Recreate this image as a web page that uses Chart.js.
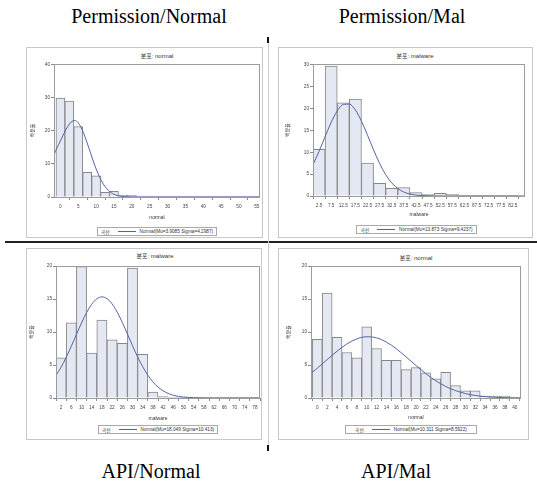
<!DOCTYPE html>
<html><head><meta charset="utf-8">
<script src="https://cdn.jsdelivr.net/npm/chart.js@4.4.0/dist/chart.umd.min.js"></script>
<style>
html,body{margin:0;padding:0;background:#fff;}
body{width:537px;height:485px;position:relative;overflow:hidden;font-family:"Liberation Sans","Noto Sans CJK KR",sans-serif;color:#333;}
.cap{position:absolute;font-family:"Liberation Serif","Times New Roman",serif;font-size:20px;line-height:20px;white-space:nowrap;transform:translateX(-50%);color:#000;}
.frame{position:absolute;border:1px solid #c8c8c8;box-sizing:border-box;}
.ptitle{position:absolute;font-size:6px;line-height:7px;white-space:nowrap;transform:translate(-50%,-50%);color:#333;}
.legend{position:absolute;border:1px solid #aaa;box-sizing:border-box;display:flex;align-items:center;justify-content:center;font-size:4.7px;white-space:nowrap;color:#333;}
.legend .ln{display:inline-block;width:18px;height:0;border-top:1px solid #5563a3;margin:0 4px 0 8px;}
canvas{position:absolute;}
.hline{position:absolute;left:5px;top:241px;width:532px;height:2px;background:#222;}
.vline{position:absolute;left:268px;top:40px;width:1px;height:411px;background:#cfcfcf;}
.tick{position:absolute;left:267px;width:2px;height:6px;background:#111;}
</style>
</head><body>
<div class="hline"></div>
<div class="vline"></div>
<div class="tick" style="top:37px"></div>
<div class="tick" style="top:445px"></div>
<div class="cap" style="left:149px;top:6px">Permission/Normal</div>
<div class="cap" style="left:402px;top:6px">Permission/Mal</div>
<div class="cap" style="left:151px;top:461px">API/Normal</div>
<div class="cap" style="left:396px;top:461px">API/Mal</div>
<div id="root"></div>
<script>
const p1Centers = [0,2.5,5,7.5,10,12.5,15,17.5,20,22.5,25,27.5,30,32.5,35,37.5,40,42.5,45,47.5,50,52.5,55];
const p1Percent = [30,29.1,21.3,7.5,6.4,1.4,1.7,0.6,0.5,0.3,0.3,0.1,0.08,0.05,0.05,0.05,0.05,0.03,0.03,0.03,0.03,0.03,0.05];
const p1CurveX = [-1.8,-1,0,1,2,3,4,5,6,7,8,9,10,11,12,13,14,15,16,17,18,20,22,55.9];
const p1CurveY = [12.8,14.8,17.0,19.3,21.3,22.7,23.2,22.45,20.6,17.9,14.75,11.5,8.5,5.95,3.95,2.48,1.47,0.83,0.44,0.22,0.11,0.02,0,0];
const p1XTicks = [0,5,10,15,20,25,30,35,40,45,50,55];
const p1YTicks = [0,10,20,30,40];

const p2Centers = [2.5,7.5,12.5,17.5,22.5,27.5,32.5,37.5,42.5,47.5,52.5,57.5,62.5,67.5,72.5,77.5,82.5];
const p2Percent = [10.7,29.7,21.3,22.2,7.55,2.9,1.75,1.9,0.8,0.3,0.6,0.4,0.15,0.1,0.05,0.05,0.15];
const p2CurveX = [0,2.5,5,7.5,10,12.5,15,17.5,20,22.5,25,27.5,30,32.5,35,37.5,40,42.5,45,50,55,87.5];
const p2CurveY = [7.17,10.22,13.59,16.84,19.46,20.95,21.02,19.66,17.13,13.92,10.54,7.44,4.89,3.0,1.71,0.91,0.45,0.21,0.09,0.012,0,0];
const p2XTicks = [2.5,7.5,12.5,17.5,22.5,27.5,32.5,37.5,42.5,47.5,52.5,57.5,62.5,67.5,72.5,77.5,82.5];
const p2YTicks = [0,5,10,15,20,25,30];

const p3Centers = [2,6,10,14,18,22,26,30,34,38,42,46,50,54,58,62,66,70,74,78];
const p3Percent = [6.1,11.4,19.9,6.8,11.8,8.8,8.3,19.7,6.6,0.9,0.2,0.05,0.04,0.03,0.03,0.03,0.03,0.03,0.03,0.1];
const p3CurveX = [0,2,4,6,8,10,12,14,16,18,20,22,24,26,28,30,32,34,36,38,40,42,44,46,48,50,54,58,62,80];
const p3CurveY = [3.41,4.67,6.17,7.84,9.63,11.36,12.94,14.2,15.03,15.32,15.05,14.26,13.01,11.45,9.7,7.93,6.24,4.74,3.47,2.44,1.66,1.09,0.69,0.42,0.24,0.14,0.04,0.01,0,0];
const p3XTicks = [2,6,10,14,18,22,26,30,34,38,42,46,50,54,58,62,66,70,74,78];
const p3YTicks = [0,5,10,15,20];

const p4Centers = [0,2,4,6,8,10,12,14,16,18,20,22,24,26,28,30,32,34,36,38,40];
const p4Percent = [8.9,15.9,9.2,6.9,6.1,10.8,7.5,5.7,5.7,4.3,4.6,3.8,2.9,3.9,1.9,1.1,1.1,0.3,0.3,0.3,0.05];
const p4CurveX = [-1.28,0,2,4,6,8,10,12,14,16,18,20,22,24,26,28,30,32,34,36,38,40,41.27];
const p4CurveY = [3.74,4.52,5.82,7.09,8.19,8.96,9.28,9.11,8.47,7.46,6.22,4.92,3.68,2.61,1.75,1.12,0.67,0.38,0.21,0.11,0.05,0.02,0.02];
const p4XTicks = [0,2,4,6,8,10,12,14,16,18,20,22,24,26,28,30,32,34,36,38,40];
const p4YTicks = [0,5,10,15,20];

const panelTitles = ['분포: normal','분포: malware','분포: malware','분포: normal'];
const xTitles = ['normal','malware','malware','normal'];
const yTitle = '백분율';
const legendPrefix = '곡선';
const legendTexts = ['Normal(Mu=3.9085 Sigma=4.2987)','Normal(Mu=13.873 Sigma=9.4237)','Normal(Mu=18.049 Sigma=10.413)','Normal(Mu=10.311 Sigma=8.5922)'];

// ---- layout ----
const layouts = [
  {frame:[26,47,263,238], plot:[54,64,260,197], yTitleX:33, xTitleY:218, titleX:157, titleY:56, legend:[97,227,217,236], xr:[-1.8,55.9], ymax:40.3},
  {frame:[278,47,533,238], plot:[313,64,525,196], yTitleX:288, xTitleY:215, titleX:415, titleY:56, legend:[356,225,477,234], xr:[0,87.5], ymax:30.2},
  {frame:[26,248,262,440], plot:[56,266,260,398], yTitleX:32, xTitleY:419, titleX:155, titleY:256, legend:[98,425,218,434], xr:[0,80], ymax:20},
  {frame:[278,248,529,440], plot:[311,266,521,398], yTitleX:289, xTitleY:418, titleX:416, titleY:258, legend:[345,425,477,434], xr:[-1.28,41.27], ymax:20}
];
const series = [
  [p1Centers,p1Percent,p1CurveX,p1CurveY,p1XTicks,p1YTicks],
  [p2Centers,p2Percent,p2CurveX,p2CurveY,p2XTicks,p2YTicks],
  [p3Centers,p3Percent,p3CurveX,p3CurveY,p3XTicks,p3YTicks],
  [p4Centers,p4Percent,p4CurveX,p4CurveY,p4XTicks,p4YTicks]
];

Chart.defaults.font.family = '"Liberation Sans","Noto Sans CJK KR",sans-serif';
Chart.defaults.color = '#333';

const framePlugin = {
  id:'plotFrame',
  afterDatasetsDraw(c){
    const a=c.chartArea, x=c.ctx;
    x.save(); x.strokeStyle='#9c9c9c'; x.lineWidth=1;
    x.strokeRect(Math.round(a.left)+0.5, Math.round(a.top)+0.5, Math.round(a.right)-Math.round(a.left)-1, Math.round(a.bottom)-Math.round(a.top));
    x.restore();
  }
};

const root = document.getElementById('root');
layouts.forEach((L,i)=>{
  const [cx,vals,kx,ky,xt,yt] = series[i];
  const f = document.createElement('div'); f.className='frame';
  f.style.left=L.frame[0]+'px'; f.style.top=L.frame[1]+'px';
  f.style.width=(L.frame[2]-L.frame[0])+'px'; f.style.height=(L.frame[3]-L.frame[1])+'px';
  root.appendChild(f);

  const t = document.createElement('div'); t.className='ptitle'; t.textContent=panelTitles[i];
  t.style.left=L.titleX+'px'; t.style.top=L.titleY+'px'; root.appendChild(t);

  const lg = document.createElement('div'); lg.className='legend';
  lg.style.left=L.legend[0]+'px'; lg.style.top=L.legend[1]+'px';
  lg.style.width=(L.legend[2]-L.legend[0])+'px'; lg.style.height=(L.legend[3]-L.legend[1])+'px';
  const s1=document.createElement('span'); s1.textContent=legendPrefix;
  const s2=document.createElement('span'); s2.className='ln';
  const s3=document.createElement('span'); s3.textContent=legendTexts[i];
  lg.append(s1,s2,s3); root.appendChild(lg);

  const [pl,pt,pr,pb] = L.plot;
  const yFont=5, lh=yFont*1.2;
  const cLeft = L.yTitleX - lh/2;
  const cTop = pt - 5;
  const cRight = pr + 7;
  const cBottom = L.xTitleY + lh/2;
  const yW = pl - cLeft, xH = cBottom - pb;
  const cv = document.createElement('canvas');
  cv.width = Math.round(cRight-cLeft); cv.height = Math.round(cBottom-cTop);
  cv.style.left = cLeft+'px'; cv.style.top = cTop+'px';
  cv.style.width = cv.width+'px'; cv.style.height = cv.height+'px';
  root.appendChild(cv);

  new Chart(cv, {
    type:'bar',
    data:{datasets:[
      {type:'line', data:kx.map((v,j)=>({x:v,y:ky[j]})), borderColor:'#5563a3', borderWidth:1, pointRadius:0, fill:false, cubicInterpolationMode:'monotone', order:0},
      {type:'bar', data:cx.map((v,j)=>({x:v,y:vals[j]})), backgroundColor:'#e4e8f2', borderColor:'#878787', borderWidth:1, categoryPercentage:1, barPercentage:1, order:1}
    ]},
    options:{
      responsive:false, animation:false, devicePixelRatio:1,
      layout:{padding:{left:0,top:5,right:7,bottom:0}},
      plugins:{legend:{display:false}, title:{display:false}, tooltip:{enabled:false}},
      scales:{
        x:{type:'linear', min:L.xr[0], max:L.xr[1], offset:false,
           afterBuildTicks(s){ s.ticks = xt.map(v=>({value:v})); },
           afterFit(s){ s.height = xH; },
           grid:{display:true, drawOnChartArea:false, drawTicks:true, tickLength:3, color:'#8a8a8a'},
           border:{display:false},
           ticks:{font:{size:4.7}, padding:4, maxRotation:0, autoSkip:false, color:'#444'},
           title:{display:true, text:xTitles[i], font:{size:yFont}, padding:0, color:'#333'}},
        y:{type:'linear', min:0, max:L.ymax,
           afterBuildTicks(s){ s.ticks = yt.map(v=>({value:v})); },
           afterFit(s){ s.width = yW; },
           grid:{display:true, drawOnChartArea:false, drawTicks:true, tickLength:3, color:'#8a8a8a'},
           border:{display:false},
           ticks:{font:{size:4.7}, padding:1, autoSkip:false, color:'#444'},
           title:{display:true, text:yTitle, font:{size:yFont}, padding:0, color:'#333'}}
      }
    },
    plugins:[framePlugin]
  });
});
</script>
</body></html>
